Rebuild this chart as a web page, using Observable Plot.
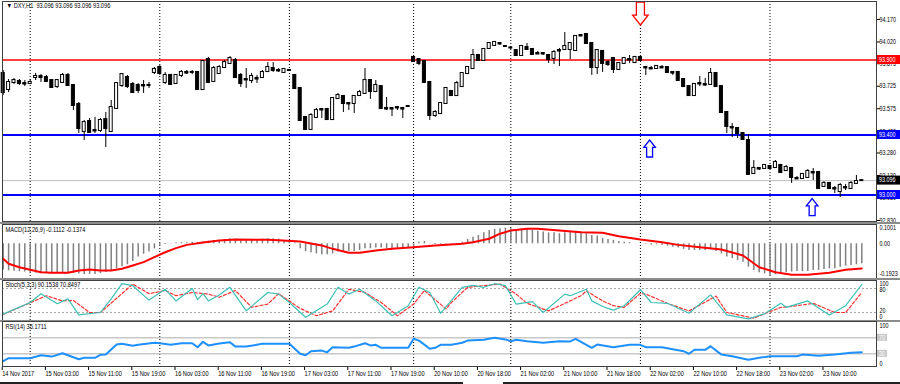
<!DOCTYPE html>
<html><head><meta charset="utf-8">
<script src="https://cdn.jsdelivr.net/npm/d3@7"></script>
<script src="https://cdn.jsdelivr.net/npm/@observablehq/plot@0.6"></script>
<style>
body{margin:0;background:#fff;}
#chart{position:relative;width:900px;height:384px;overflow:hidden;background:#fff;font-family:"Liberation Sans",Arial,sans-serif;}
#chart svg{position:absolute;left:0;}
.band{position:absolute;left:0;width:900px;background:#8c8c8c;}
</style></head><body><div id="chart"></div>
<script>
// ---------- DATA (DXY, H1) ----------
const opens=[93.810,93.703,93.750,93.757,93.743,93.743,93.783,93.790,93.783,93.763,
93.723,93.750,93.797,93.730,93.603,93.423,93.490,93.430,93.430,93.503,
93.423,93.577,93.730,93.783,93.737,93.730,93.730,93.730,93.817,93.850,
93.750,93.797,93.743,93.797,93.817,93.817,93.817,93.703,93.903,93.757,
93.810,93.850,93.877,93.897,93.797,93.770,93.763,93.777,93.783,93.823,
93.843,93.830,93.817,93.830,93.797,93.710,93.517,93.437,93.517,93.570,
93.570,93.503,93.643,93.657,93.610,93.610,93.663,93.677,93.763,93.690,
93.723,93.577,93.577,93.583,93.577,93.590,93.917,93.903,93.890,93.750,
93.530,93.543,93.610,93.690,93.663,93.723,93.810,93.843,93.930,93.897,
93.977,93.997,94.010,93.990,93.980,93.963,93.930,93.983,93.970,93.943,
93.943,93.930,93.910,93.963,93.970,93.970,93.963,94.063,94.070,94.010,
93.850,93.957,93.883,93.910,93.837,93.877,93.903,93.883,93.917,93.850,
93.843,93.843,93.850,93.850,93.817,93.817,93.770,93.723,93.663,93.743,
93.737,93.737,93.810,93.723,93.550,93.450,93.443,93.410,93.363,93.143,
93.177,93.177,93.190,93.183,93.197,93.163,93.177,93.110,93.110,93.117,
93.150,93.150,93.057,93.077,93.043,93.023,93.050,93.043,93.077,93.096];
const highs=[93.830,93.770,93.777,93.770,93.763,93.770,93.810,93.803,93.797,93.770,
93.770,93.810,93.810,93.737,93.617,93.497,93.510,93.517,93.510,93.550,
93.630,93.750,93.810,93.797,93.750,93.743,93.763,93.750,93.850,93.863,
93.817,93.803,93.803,93.830,93.830,93.830,93.823,93.897,93.917,93.857,
93.863,93.897,93.923,93.910,93.810,93.843,93.810,93.797,93.830,93.883,
93.883,93.843,93.843,93.837,93.803,93.717,93.523,93.543,93.577,93.577,
93.577,93.650,93.677,93.663,93.617,93.663,93.697,93.843,93.770,93.763,
93.730,93.650,93.583,93.590,93.583,93.597,93.923,93.910,93.897,93.757,
93.563,93.617,93.717,93.697,93.757,93.817,93.857,93.970,93.937,93.977,
94.017,94.023,94.017,93.997,93.990,93.970,93.997,94.010,93.977,93.957,
93.950,93.937,93.963,93.977,94.083,94.017,94.063,94.070,94.077,94.017,
93.970,93.963,93.897,93.917,93.883,93.917,93.930,93.923,93.923,93.857,
93.857,93.863,93.863,93.857,93.823,93.823,93.777,93.730,93.743,93.790,
93.777,93.843,93.817,93.730,93.557,93.477,93.450,93.417,93.403,93.230,
93.183,93.203,93.197,93.230,93.203,93.197,93.183,93.123,93.143,93.170,
93.177,93.157,93.090,93.083,93.057,93.077,93.070,93.090,93.130,93.100];
const lows=[93.663,93.683,93.737,93.730,93.723,93.737,93.763,93.750,93.750,93.710,
93.710,93.743,93.723,93.563,93.410,93.363,93.410,93.410,93.417,93.317,
93.417,93.570,93.717,93.710,93.677,93.677,93.677,93.710,93.803,93.797,
93.737,93.730,93.737,93.783,93.803,93.803,93.697,93.697,93.743,93.750,
93.803,93.843,93.870,93.777,93.717,93.710,93.743,93.743,93.777,93.817,
93.817,93.817,93.810,93.823,93.703,93.490,93.430,93.430,93.510,93.510,
93.497,93.497,93.637,93.550,93.563,93.543,93.657,93.670,93.637,93.683,
93.570,93.563,93.523,93.563,93.510,93.583,93.883,93.863,93.743,93.497,
93.517,93.537,93.603,93.657,93.657,93.717,93.803,93.837,93.890,93.890,
93.970,93.990,93.997,93.983,93.970,93.923,93.923,93.963,93.930,93.937,
93.930,93.877,93.870,93.857,93.963,93.903,93.957,94.057,94.003,93.797,
93.803,93.817,93.857,93.810,93.830,93.870,93.877,93.877,93.890,93.797,
93.837,93.837,93.843,93.810,93.797,93.757,93.717,93.657,93.657,93.723,
93.723,93.730,93.717,93.543,93.410,93.383,93.377,93.363,93.130,93.137,
93.163,93.170,93.170,93.177,93.143,93.157,93.077,93.103,93.103,93.110,
93.097,93.037,93.050,93.037,93.010,92.983,93.030,93.037,93.070,93.093];
const closes=[93.683,93.750,93.763,93.743,93.740,93.750,93.790,93.783,93.757,93.717,
93.763,93.797,93.730,93.597,93.443,93.483,93.417,93.427,93.497,93.443,
93.583,93.743,93.803,93.723,93.683,93.697,93.727,93.730,93.837,93.810,
93.797,93.737,93.797,93.817,93.813,93.817,93.703,93.890,93.750,93.843,
93.850,93.883,93.910,93.783,93.743,93.767,93.790,93.773,93.817,93.850,
93.830,93.827,93.837,93.830,93.710,93.497,93.437,93.530,93.563,93.567,
93.503,93.643,93.663,93.610,93.607,93.657,93.683,93.763,93.690,93.730,
93.577,93.573,93.573,93.580,93.573,93.590,93.890,93.877,93.750,93.530,
93.550,93.610,93.710,93.663,93.743,93.810,93.850,93.930,93.897,93.970,
94.010,94.017,94.007,93.990,93.980,93.930,93.990,93.970,93.937,93.940,
93.940,93.903,93.950,93.960,93.990,94.010,94.057,94.060,94.010,93.850,
93.963,93.877,93.870,93.837,93.877,93.910,93.900,93.917,93.897,93.847,
93.840,93.857,93.847,93.817,93.813,93.763,93.723,93.663,93.737,93.740,
93.733,93.810,93.723,93.550,93.457,93.447,93.410,93.370,93.137,93.177,
93.173,93.197,93.177,93.217,93.150,93.183,93.117,93.107,93.137,93.157,
93.147,93.043,93.077,93.043,93.040,93.063,93.047,93.077,93.090,93.096];

const macdHist=[-0.145,-0.150,-0.152,-0.155,-0.157,-0.160,-0.163,-0.165,-0.165,-0.166,
-0.167,-0.165,-0.163,-0.165,-0.168,-0.170,-0.170,-0.170,-0.165,-0.160,
-0.152,-0.139,-0.128,-0.117,-0.098,-0.074,-0.058,-0.046,-0.028,-0.012,
-0.004,0.002,0.004,0.006,0.006,0.008,0.006,0.012,0.014,0.018,
0.020,0.024,0.028,0.026,0.022,0.022,0.024,0.024,0.026,0.028,
0.028,0.026,0.019,0.015,0.005,-0.028,-0.043,-0.050,-0.056,-0.061,
-0.061,-0.056,-0.046,-0.046,-0.043,-0.043,-0.037,-0.028,-0.028,-0.024,
-0.024,-0.028,-0.028,-0.028,-0.028,-0.024,-0.019,0.009,0.013,0.002,
-0.004,-0.005,-0.003,-0.004,-0.002,0.009,0.024,0.037,0.046,0.061,
0.074,0.080,0.083,0.087,0.083,0.080,0.083,0.080,0.074,0.070,
0.065,0.061,0.061,0.056,0.061,0.065,0.069,0.065,0.056,0.046,
0.043,0.031,0.024,0.019,0.013,0.009,0.006,0.002,0.000,-0.003,
-0.006,-0.006,-0.009,-0.013,-0.019,-0.024,-0.031,-0.037,-0.037,-0.037,
-0.037,-0.033,-0.043,-0.056,-0.074,-0.083,-0.093,-0.102,-0.130,-0.148,
-0.161,-0.167,-0.176,-0.172,-0.167,-0.161,-0.157,-0.154,-0.154,-0.154,
-0.148,-0.148,-0.143,-0.139,-0.139,-0.130,-0.124,-0.120,-0.117,-0.111];
const macdSignal=[[0,-0.083],[1,-0.111],[3,-0.13],[5,-0.144],[7,-0.158],[9,-0.161],[12,-0.161],[14,-0.148],[16,-0.143],[18,-0.148],[20,-0.148],[22,-0.139],[24,-0.121],[26,-0.102],[28,-0.074],[30,-0.047],[32,-0.024],[34,-0.006],[37,0.007],[40,0.018],[43,0.024],[49,0.022],[51,0.02],[55,0.013],[59,-0.009],[61,-0.028],[64,-0.05],[66,-0.05],[69,-0.037],[72,-0.028],[76,-0.019],[80,-0.009],[85,0],[87,0.009],[90,0.028],[92,0.056],[94,0.074],[97,0.083],[99,0.083],[103,0.074],[107,0.064],[111,0.061],[114,0.042],[118,0.024],[122,0.009],[125,-0.006],[129,-0.019],[133,-0.032],[137,-0.065],[140,-0.13],[143,-0.158],[146,-0.172],[149,-0.172],[153,-0.161],[156,-0.144],[159,-0.137]];
const stochMain=[[0,16],[5,45],[7,67],[10,42],[12,54],[14,14],[18,20],[20,54],[22,92],[24,87],[27,51],[30,78],[32,49],[35,80],[36,52],[37,67],[38,49],[40,64],[42,83],[45,24],[49,70],[51,66],[53,45],[56,8],[60,41],[62,83],[64,66],[66,78],[69,49],[72,12],[75,37],[77,83],[79,70],[81,18],[85,83],[87,88],[89,83],[91,92],[93,87],[95,41],[98,47],[100,20],[104,66],[105,62],[108,78],[109,49],[111,35],[113,26],[115,37],[118,77],[120,45],[123,43],[127,18],[131,64],[134,14],[138,4],[141,17],[144,43],[145,33],[149,49],[153,14],[156,37],[159,90]];
const stochSignal=[[0,15],[8,62],[11,49],[13,50],[16,20],[18,20],[24,91],[27,67],[30,75],[32,62],[35,70],[38,66],[40,58],[43,75],[46,33],[49,41],[51,67],[55,30],[58,12],[61,24],[64,78],[67,70],[70,45],[73,12],[76,41],[78,75],[82,29],[83,45],[86,83],[88,86],[92,91],[95,66],[97,43],[101,24],[105,49],[107,62],[108,74],[111,49],[113,37],[115,33],[118,68],[119,66],[123,43],[127,24],[132,61],[134,20],[139,6],[144,33],[146,35],[150,43],[154,20],[156,20],[159,70]];
const rsi=[[0,11.5],[1,19],[5,19],[7,26.5],[9,23],[11,31.5],[14,16.5],[15,20],[17,20],[18,27.5],[19,28],[21,53],[22,55],[24,50],[25,52.5],[28,57.5],[29,56.5],[31,52.5],[33,56.5],[35,56.5],[36,46.5],[37,60],[38,51],[40,56],[42,59],[43,48],[45,48],[48,55],[53,55],[55,30],[56,26.5],[57,36.5],[59,38],[60,34],[61,46.5],[64,45],[65,48],[67,56.5],[68,51],[69,52.5],[70,45],[74,45],[75,45],[76,67.5],[77,63],[79,42.5],[80,45],[81,52.5],[83,52.5],[85,57.5],[86,63],[89,65],[91,70],[93,66],[94,61.5],[95,65],[97,61.5],[100,57.5],[103,61.5],[105,61],[106,67.5],[109,45],[110,53],[113,46.5],[116,52.5],[118,52.5],[119,46.5],[122,46.5],[126,36.5],[127,30],[128,40],[130,40],[131,49],[133,28],[135,24],[138,15],[140,20],[142,24],[147,24],[148,28],[151,25],[154,28],[157,32.5],[159,34]];

const levelRed=[93.900];
const levelBlue=[93.400,93.000];
const lastPrice=93.096;
const priceTicks=[94.170,94.020,93.875,93.725,93.575,93.420,93.280,93.130,92.980,92.830];
const dayStartIdx=[5,29,53,76,94,118,142];
const timeLabelIdx=[0,8,16,24,32,40,48,56,64,72,80,88,96,104,112,120,128,136,144,152];
const timeLabels=["14 Nov 2017","15 Nov 03:00","15 Nov 11:00","15 Nov 19:00","16 Nov 03:00","16 Nov 11:00","16 Nov 19:00","17 Nov 03:00","17 Nov 11:00","17 Nov 19:00","20 Nov 10:00","20 Nov 18:00","21 Nov 02:00","21 Nov 10:00","21 Nov 18:00","22 Nov 02:00","22 Nov 10:00","22 Nov 18:00","23 Nov 02:00","23 Nov 10:00"];
const arrowsDown=[{i:118,p:94.210}];
const arrowsUp=[{i:119.7,p:93.310},{i:149.8,p:92.919}];

// ---------- RENDER ----------
const chart=document.getElementById("chart");
const W=900, ML=2, MR=24;
const FONT="Liberation Sans, Arial, sans-serif";
const FS=6.6;
const X={domain:[-0.1296,161.72],axis:null};
const bars=opens.map((o,i)=>({i,open:o,high:highs[i],low:lows[i],close:closes[i]}));
const grid=Plot.ruleX(dayStartIdx,{stroke:"#000",strokeDasharray:"1,2",strokeWidth:1});

function panel(top,height,mt,mb,ydomain,marks){
  const svg=Plot.plot({width:W,height,marginLeft:ML,marginRight:MR,marginTop:mt,marginBottom:mb,
    x:X,y:{domain:ydomain,axis:null},
    style:{background:"transparent",fontFamily:FONT,fontSize:FS+"px",color:"#000",overflow:"visible"},
    marks});
  svg.style.top=top+"px";
  chart.append(svg);
  return svg;
}
function band(top,h){const d=document.createElement("div");d.className="band";d.style.top=top+"px";d.style.height=h+"px";chart.append(d);}
function boxLabel(svg,v,txt,bg,fg,w,h){
  const y=svg.scale("y").apply(v);
  const g=d3.select(svg).append("g").attr("text-anchor","start");
  g.append("rect").attr("x",W-MR+1).attr("y",y-h/2).attr("width",w).attr("height",h).attr("fill",bg);
  g.append("text").attr("x",W-MR+3).attr("y",y).attr("dy","0.35em").attr("fill",fg)
    .attr("text-anchor","start").attr("font-size",FS).attr("font-family",FONT).text(txt);
}
function rlabel(v,txt,dy){return Plot.text([v],{y:d=>d,text:()=>txt,frameAnchor:"right",textAnchor:"start",dx:3,dy,fill:"#000",fontSize:FS});}

const arrowUp={draw(ctx,size){const h=Math.sqrt(size/Math.PI),hw=0.68*h,sw=0.35*h,hb=-0.14*h;
  ctx.moveTo(0,-h);ctx.lineTo(hw,hb);ctx.lineTo(sw,hb);ctx.lineTo(sw,h);ctx.lineTo(-sw,h);ctx.lineTo(-sw,hb);ctx.lineTo(-hw,hb);ctx.closePath();}};
const arrowDown={draw(ctx,size){const h=Math.sqrt(size/Math.PI),hw=0.68*h,sw=0.35*h,hb=0.14*h;
  ctx.moveTo(0,h);ctx.lineTo(hw,hb);ctx.lineTo(sw,hb);ctx.lineTo(sw,-h);ctx.lineTo(-sw,-h);ctx.lineTo(-sw,hb);ctx.lineTo(-hw,hb);ctx.closePath();}};

// main price panel
const mainSvg=panel(0,222,1,1,[92.8233,94.290],[
  grid,
  Plot.ruleY([lastPrice],{stroke:"#c0c0c0",strokeWidth:1}),
  Plot.ruleY(levelRed,{stroke:"#ff0000",strokeWidth:1.5}),
  Plot.ruleY(levelBlue,{stroke:"#0000ff",strokeWidth:1.8}),
  Plot.ruleX(bars,{x:"i",y1:"low",y2:"high",stroke:"#000",strokeWidth:1}),
  Plot.rect(bars,{x1:d=>d.i-0.28,x2:d=>d.i+0.28,y1:"open",y2:"close",
    fill:d=>d.close>=d.open?"#ffffff":"#000000",stroke:"#000",strokeWidth:1,insetTop:-0.5,insetBottom:-0.5}),
  Plot.dot(arrowsDown,{x:"i",y:"p",symbol:arrowDown,r:11.5,stroke:"#ff0000",fill:"#fff",strokeWidth:1.3}),
  Plot.dot(arrowsUp,{x:"i",y:"p",symbol:arrowUp,r:8.5,stroke:"#0000ff",fill:"#fff",strokeWidth:1.3}),
  Plot.text(["\u25BC DXY,H1  93.096 93.096 93.096 93.096"],{frameAnchor:"top-left",text:d=>d,dx:4,dy:2,fill:"#000",fontSize:FS+0.3}),
  Plot.axisY({anchor:"right",ticks:priceTicks,tickFormat:d3.format(".3f"),tickSize:3,tickPadding:0,fontSize:FS}),
  Plot.frame({stroke:"#404040"})
]);
boxLabel(mainSvg,levelRed[0],"93.900","#ff0000","#fff",23,9);
boxLabel(mainSvg,levelBlue[0],"93.400","#0000ff","#fff",23,9);
boxLabel(mainSvg,lastPrice,"93.096","#000","#fff",23,9);
boxLabel(mainSvg,levelBlue[1],"93.000","#0000ff","#fff",23,9);
band(222,2);

// MACD
panel(223,56,1,1,[-0.1928,0.1072],[
  grid,
  Plot.ruleX(macdHist,{x:(d,i)=>i,y1:0,y2:d=>d,stroke:"#808080",strokeWidth:1.5}),
  Plot.line(macdSignal,{x:d=>d[0],y:d=>d[1],stroke:"#ff0000",strokeWidth:2}),
  Plot.text(["MACD(12,26,9) -0.1112 -0.1374"],{frameAnchor:"top-left",text:d=>d,dx:3,dy:3,fill:"#000",fontSize:FS+0.3}),
  rlabel(0.1001,"0.1001",2.5),rlabel(0,"0.00",0),rlabel(-0.1923,"-0.1923",-5),
  Plot.frame({stroke:"#404040"})
]);
band(278,2);

// Stochastic
panel(279,42,1,1,[0,100],[
  grid,
  Plot.ruleY([80,20],{stroke:"#a8a8a8",strokeDasharray:"2,2"}),
  Plot.line(stochSignal,{x:d=>d[0],y:d=>d[1],stroke:"#ff3030",strokeWidth:1.2,strokeDasharray:"3,2"}),
  Plot.line(stochMain,{x:d=>d[0],y:d=>d[1],stroke:"#3cc0b6",strokeWidth:1.2}),
  Plot.text(["Stoch(5,3,3) 90.1538 70.8497"],{frameAnchor:"top-left",text:d=>d,dx:3,dy:1.5,fill:"#000",fontSize:FS+0.3}),
  rlabel(100,"100",3.5),rlabel(80,"80",1),rlabel(20,"20",-1.5),rlabel(0,"0",-4),
  Plot.frame({stroke:"#404040"})
]);
band(320,1.5);

// RSI
const rsiSvg=panel(320,47,1,1,[-1.75,110.75],[
  grid,
  Plot.ruleY([70,30],{stroke:"#c8c8c8",strokeWidth:1.5}),
  Plot.line(rsi,{x:d=>d[0],y:d=>d[1],stroke:"#1e90ff",strokeWidth:2}),
  Plot.text(["RSI(14) 35.1711"],{frameAnchor:"top-left",text:d=>d,dx:3,dy:2.5,fill:"#000",fontSize:FS+0.3}),
  rlabel(100,"100",0),rlabel(0,"0",-2),
  Plot.frame({stroke:"#404040"})
]);
boxLabel(rsiSvg,70,"70","#c8c8c8","#fff",10,7);
boxLabel(rsiSvg,30,"30","#c8c8c8","#fff",10,7);

// time axis
const tmap=new Map(timeLabelIdx.map((d,k)=>[d,timeLabels[k]]));
const axSvg=Plot.plot({width:W,height:18,marginLeft:ML,marginRight:MR,marginTop:0,marginBottom:17,x:X,
  style:{background:"transparent",fontFamily:FONT,fontSize:FS+"px",color:"#000",overflow:"visible"},
  marks:[Plot.axisX({anchor:"bottom",ticks:timeLabelIdx,tickFormat:d=>tmap.get(d),tickSize:3,tickPadding:1,textAnchor:"start",dx:-1,fontSize:FS+0.3})]});
axSvg.style.top="366px";
chart.append(axSvg);
const bl=document.createElement("div");bl.style.cssText="position:absolute;left:0;top:381.5px;width:900px;height:2.5px;background:#222;";chart.append(bl);
const tab=document.createElement("div");tab.style.cssText="position:absolute;left:463px;top:381.5px;width:40px;height:2.5px;background:#fff;";chart.append(tab);

// narrow the text like the terminal font
document.querySelectorAll("#chart text").forEach(t=>{const L=t.getComputedTextLength();if(L>0){t.setAttribute("textLength",(L*0.82).toFixed(1));t.setAttribute("lengthAdjust","spacingAndGlyphs");}});
</script></body></html>
